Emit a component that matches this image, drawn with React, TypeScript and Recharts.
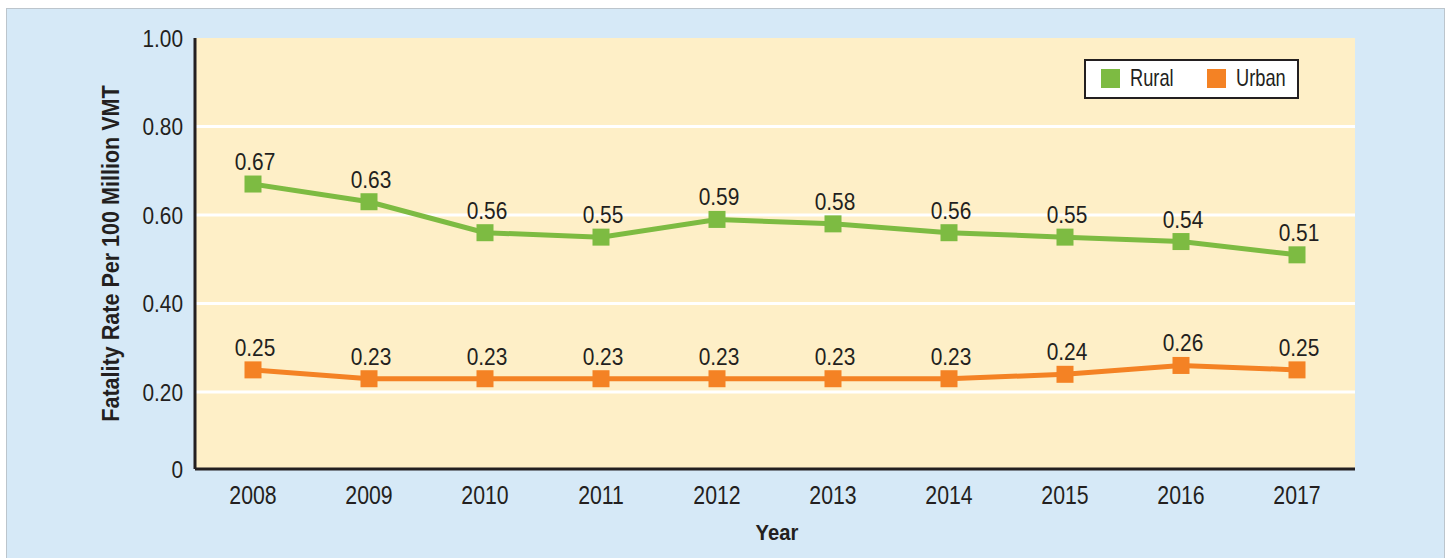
import React from 'react'
import {
  LineChart,
  Line,
  XAxis,
  YAxis,
  CartesianGrid,
  Legend,
  LabelList,
  Label,
} from 'recharts'

const years = ['2008', '2009', '2010', '2011', '2012', '2013', '2014', '2015', '2016', '2017']
const rural = [0.67, 0.63, 0.56, 0.55, 0.59, 0.58, 0.56, 0.55, 0.54, 0.51]
const urban = [0.25, 0.23, 0.23, 0.23, 0.23, 0.23, 0.23, 0.24, 0.26, 0.25]

const seriesNames = ['Rural', 'Urban']
const seriesColors = ['#7DBB42', '#F48224']

// the printed axis floor sits a bit above the true zero of the scale
const yFloor = 0.026
const yTicks = [yFloor, 0.2, 0.4, 0.6, 0.8, 1.0]
const gridValues = [0.2, 0.4, 0.6, 0.8]

const data = years.map((year, i) => ({ year, Rural: rural[i], Urban: urban[i] }))

// no condensed face installed, so squeeze Liberation Sans horizontally
const FONT = '"Liberation Sans", Arial, sans-serif'
const INK = '#231F20'

function NarrowText({ x, y, size, scale, anchor = 'middle', bold = false, rotate = 0, dy = 0, children }: any) {
  return (
    <text
      transform={`translate(${x},${y}) rotate(${rotate}) scale(${scale},1)`}
      x={0}
      y={0}
      dy={dy}
      textAnchor={anchor}
      fontFamily={FONT}
      fontSize={size}
      fontWeight={bold ? 700 : 400}
      fill={INK}
    >
      {children}
    </text>
  )
}

function XTick(props: any) {
  const { x, y, payload } = props
  return <NarrowText x={x} y={y} size={25} scale={0.85} dy="0.72em">{payload.value}</NarrowText>
}

function YTick(props: any) {
  const { x, y, payload } = props
  const v = payload.value as number
  return (
    <NarrowText x={x} y={y} size={24.5} scale={0.85} anchor="end" dy="0.36em">
      {v < 0.1 ? '0' : v.toFixed(2)}
    </NarrowText>
  )
}

function PointLabel(props: any) {
  const vb = props.viewBox || {}
  const x = props.x ?? vb.x
  const y = props.y ?? vb.y
  if (x == null || y == null) return null
  return (
    <NarrowText x={x + 2} y={y - 14} size={24} scale={0.87}>
      {Number(props.value).toFixed(2)}
    </NarrowText>
  )
}

function SquareDot(props: any) {
  const { cx, cy, fill } = props
  if (cx == null || cy == null) return null
  return <rect x={cx - 8.5} y={cy - 8.5} width={17} height={17} fill={fill} />
}

function YTitle(props: any) {
  const vb = props.viewBox || {}
  return (
    <NarrowText x={vb.x + vb.width / 2 + 21} y={vb.y + vb.height / 2} size={24.5} scale={0.88} bold rotate={-90}>
      Fatality Rate Per 100 Million VMT
    </NarrowText>
  )
}

function XTitle(props: any) {
  const vb = props.viewBox || {}
  return (
    <NarrowText x={vb.x + vb.width / 2 + 2} y={vb.y + 70.5} size={22} scale={0.92} bold>
      Year
    </NarrowText>
  )
}

const legendOffsets = [17, 123]

function LegendBox() {
  return (
    <div
      style={{
        position: 'relative',
        width: 215,
        height: 40,
        boxSizing: 'border-box',
        border: `2px solid ${INK}`,
        background: '#fff',
        fontFamily: FONT,
        fontSize: 24,
        color: INK,
      }}
    >
      {seriesNames.map((name, i) => (
        <React.Fragment key={name}>
          <span
            style={{
              position: 'absolute',
              left: legendOffsets[i] - 2,
              top: 8,
              width: 19,
              height: 19,
              background: seriesColors[i],
            }}
          />
          <span
            style={{
              position: 'absolute',
              left: legendOffsets[i] + 27,
              top: 3,
              lineHeight: '28px',
              transform: 'scaleX(0.76)',
              transformOrigin: 'left center',
              whiteSpace: 'nowrap',
            }}
          >
            {name}
          </span>
        </React.Fragment>
      ))}
    </div>
  )
}

export default function App() {
  return (
    <div style={{ position: 'absolute', left: 0, top: 0, width: 1447, height: 558, background: '#fff', overflow: 'hidden' }}>
      {/* blue panel */}
      <div
        style={{
          position: 'absolute',
          left: 6,
          top: 8,
          width: 1439,
          height: 560,
          boxSizing: 'border-box',
          background: '#D6E9F7',
          border: '1px solid #BCC5CC',
        }}
      />
      <div style={{ position: 'absolute', left: 0, top: 0 }}>
        <LineChart width={1447} height={558} data={data} margin={{ top: 38, right: 92, bottom: 0, left: 0 }}>
          <CartesianGrid
            horizontal
            vertical={false}
            horizontalValues={gridValues}
            stroke="#FFFFFF"
            strokeWidth={3}
            fill="#FEEFC7"
            fillOpacity={1}
          />
          <XAxis
            dataKey="year"
            height={89}
            padding={{ left: 58, right: 58 }}
            tickLine={false}
            axisLine={{ stroke: INK, strokeWidth: 3 }}
            tickMargin={11}
            tick={<XTick />}
          >
            <Label content={<XTitle />} />
          </XAxis>
          <YAxis
            width={195}
            domain={[yFloor, 1]}
            ticks={yTicks}
            allowDataOverflow
            tickLine={false}
            axisLine={{ stroke: INK, strokeWidth: 3 }}
            tickMargin={6}
            tick={<YTick />}
          >
            <Label content={<YTitle />} />
          </YAxis>
          <Legend
            layout="horizontal"
            align="center"
            verticalAlign="middle"
            wrapperStyle={{ left: 1084, top: 59, width: 215, height: 40 }}
            content={() => <LegendBox />}
          />
          {seriesNames.map((name, i) => (
            <Line
              key={name}
              type="linear"
              dataKey={name}
              stroke={seriesColors[i]}
              strokeWidth={5}
              dot={<SquareDot fill={seriesColors[i]} />}
              activeDot={false}
              isAnimationActive={false}
            >
              <LabelList dataKey={name} content={<PointLabel />} />
            </Line>
          ))}
        </LineChart>
      </div>
    </div>
  )
}
